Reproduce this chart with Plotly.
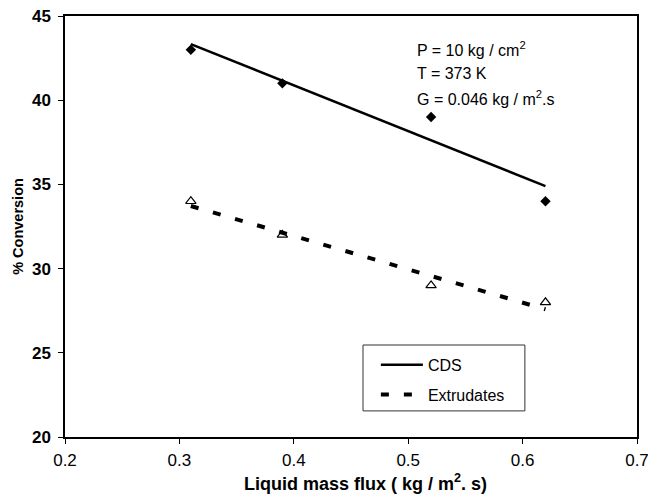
import numpy as np
import plotly.graph_objects as go

# Measured conversion vs liquid mass flux
flux = [0.31, 0.39, 0.52, 0.62]
cds = [43, 41, 39, 34]
extrudates = [34, 32, 29, 28]

x_ticks = [0.2, 0.3, 0.4, 0.5, 0.6, 0.7]
y_ticks = [20, 25, 30, 35, 40, 45]

conditions = [
    "P = 10 kg / cm<sup>2</sup>",
    "T = 373 K",
    "G = 0.046 kg / m<sup>2</sup>.s",
]

FONT = "Liberation Sans, Arial, sans-serif"


def linear_fit(x, y):
    k, b = np.polyfit(x, y, 1)
    xs = np.array([min(x), max(x)])
    return xs, k * xs + b


fig = go.Figure()

# Linear trend lines (shown in legend)
xs, ys = linear_fit(flux, cds)
fig.add_trace(go.Scatter(x=xs, y=ys, mode="lines", name="CDS",
                         legendgroup="a",
                         line=dict(color="black", width=2.5)))
xs, ys = linear_fit(flux, extrudates)
fig.add_trace(go.Scatter(x=xs, y=ys, mode="lines", name="Extrudates",
                         legendgroup="b",
                         line=dict(color="black", width=4, dash="8px,15px")))

# Data points
fig.add_trace(go.Scatter(x=flux, y=cds, mode="markers", showlegend=False,
                         marker=dict(symbol="diamond", size=8, color="black")))
fig.add_trace(go.Scatter(x=flux, y=extrudates, mode="markers", showlegend=False,
                         marker=dict(symbol="triangle-up-open", size=9,
                                     color="black", line=dict(width=1.2))))

# Legend frame
fig.add_shape(type="rect", xref="paper", yref="paper",
              x0=0.521, x1=0.804, y0=0.062, y1=0.2185,
              line=dict(color="#333333", width=1), fillcolor="white", layer="below")

# Operating conditions
for i, line in enumerate(conditions):
    fig.add_annotation(
        xref="paper", yref="paper", x=0.612, y=0.9216 - i * 0.058,
        xanchor="left", yanchor="middle", text=line, showarrow=False,
        font=dict(family=FONT, size=16, color="black"),
    )

# X-axis title
fig.add_annotation(
    xref="paper", yref="paper", x=0.5245, y=-0.107,
    xanchor="center", yanchor="middle", showarrow=False,
    text="<b>Liquid mass flux ( kg / m<sup>2</sup>. s)</b>",
    font=dict(family=FONT, size=18, color="black"),
)

fig.update_layout(
    width=648, height=498,
    margin=dict(l=65, r=11, t=16, b=61, autoexpand=False),
    paper_bgcolor="white", plot_bgcolor="white",
    font=dict(family=FONT, size=16, color="black"),
    showlegend=True,
    legend=dict(x=0.5435, y=0.212, xanchor="left", yanchor="top",
                bgcolor="rgba(0,0,0,0)", borderwidth=0,
                traceorder="grouped", tracegroupgap=6, itemwidth=42,
                font=dict(family=FONT, size=16)),
    xaxis=dict(range=[0.2, 0.7], tickvals=x_ticks,
               ticktext=[f"{v:g}" for v in x_ticks],
               showgrid=False, zeroline=False,
               showline=True, linecolor="black", linewidth=1.5, mirror=True,
               ticks="outside", ticklen=5, tickcolor="black",
               ticklabelstandoff=2, ticklabeloverflow="allow",
               tickfont=dict(family=FONT, size=17)),
    yaxis=dict(range=[20, 45], tickvals=y_ticks,
               ticktext=[f"<b>{v}</b>" for v in y_ticks],
               showgrid=False, zeroline=False,
               showline=True, linecolor="black", linewidth=1.5, mirror=True,
               ticks="outside", ticklen=5, tickcolor="black",
               ticklabelstandoff=4, ticklabeloverflow="allow",
               tickfont=dict(family=FONT, size=17),
               title=dict(text="<b>% Conversion</b>",
                          font=dict(family=FONT, size=14.5), standoff=5)),
)

fig.write_html("out.html")
